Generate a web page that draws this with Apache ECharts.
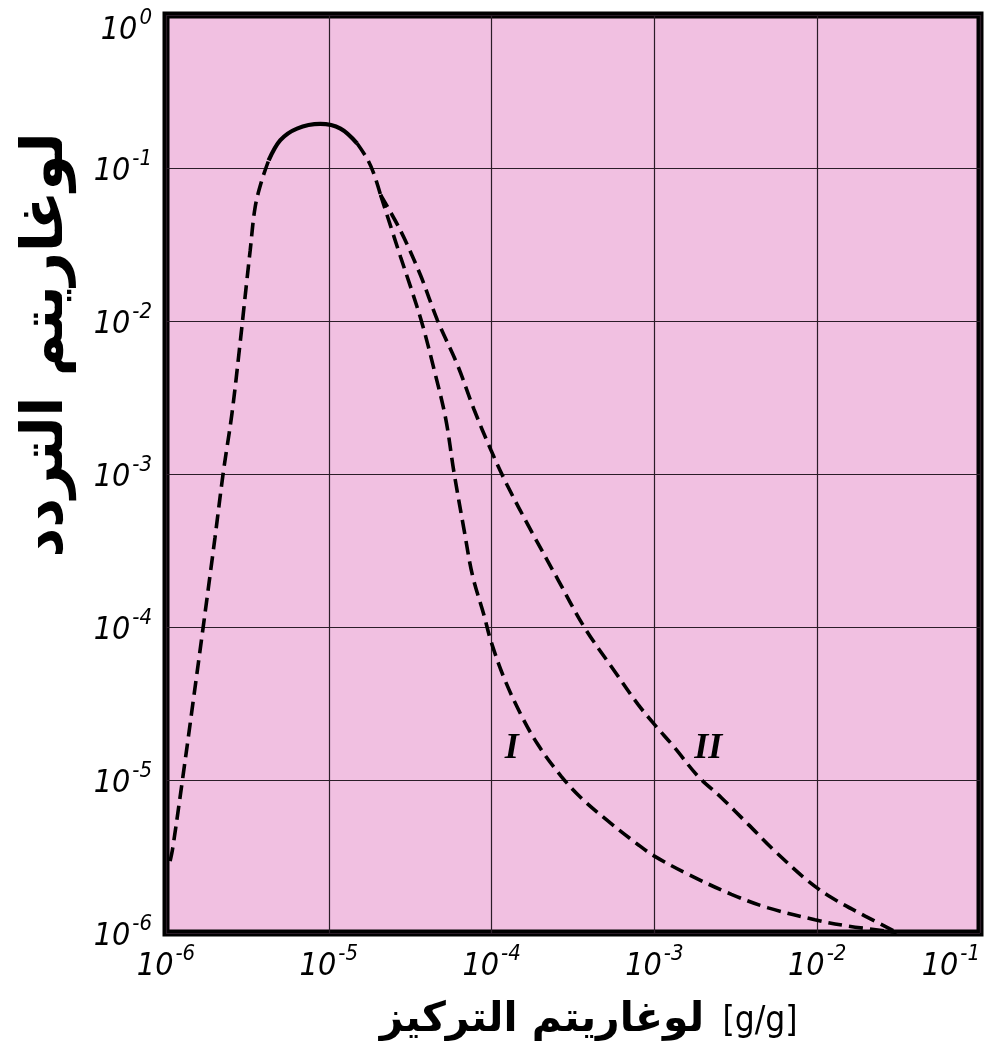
<!DOCTYPE html>
<html>
<head>
<meta charset="utf-8">
<script src="https://cdn.jsdelivr.net/npm/echarts@6/dist/echarts.min.js"></script>
<style>
  html, body { margin: 0; padding: 0; background: #fff; }
  #chart { width: 991px; height: 1060px; }
</style>
</head>
<body>
<div id="chart"></div>
<script>
// tick exponents shown as 10^n, from the lowest decade up
var xTickExp = ['-6', '-5', '-4', '-3', '-2', '-1']
var yTickExp = ['-6', '-5', '-4', '-3', '-2', '-1', '0']

// common curve, rising flank (dashed)
var riseX = [1.06e-6, 1.10e-6, 1.27e-6, 1.47e-6, 1.69e-6, 2.00e-6, 2.25e-6, 2.54e-6, 2.82e-6, 3.14e-6, 3.29e-6, 3.53e-6, 3.88e-6, 4.27e-6]
var riseY = [2.95e-6, 3.59e-6, 1.05e-5, 3.29e-5, 9.9e-5, 3.85e-4, 1.03e-3, 2.47e-3, 6.43e-3, 1.85e-2, 2.90e-2, 5.56e-2, 8.32e-2, 1.12e-1]
// top of the peak (solid)
var peakX = [4.27e-6, 5.04e-6, 6.38e-6, 8.87e-6, 1.18e-5, 1.49e-5]
var peakY = [1.12e-1, 1.52e-1, 1.81e-1, 1.94e-1, 1.81e-1, 1.45e-1]
// falling flank before the two branches split
var fallX = [1.49e-5, 1.72e-5, 1.89e-5, 2.08e-5]
var fallY = [1.45e-1, 1.15e-1, 9.2e-2, 6.67e-2]
// branch I
var curveIX = [2.08e-5, 2.76e-5, 3.18e-5, 3.76e-5, 4.43e-5, 5.22e-5, 5.87e-5, 6.78e-5, 7.62e-5, 8.99e-5, 9.89e-5, 1.19e-4, 1.51e-4, 1.92e-4, 2.67e-4, 3.54e-4, 5.18e-4, 7.91e-4, 1.0e-3, 1.61e-3, 2.97e-3, 5.0e-3, 9.68e-3, 1.55e-2, 3.08e-2]
var curveIY = [6.67e-2, 2.62e-2, 1.67e-2, 9.46e-3, 4.84e-3, 2.31e-3, 1.03e-3, 4.30e-4, 2.19e-4, 1.19e-4, 8.13e-5, 4.67e-5, 2.69e-5, 1.71e-5, 1.06e-5, 7.66e-6, 5.40e-6, 3.79e-6, 3.18e-6, 2.42e-6, 1.79e-6, 1.46e-6, 1.22e-6, 1.11e-6, 1.01e-6]
// branch II
var curveIIX = [2.08e-5, 2.76e-5, 3.66e-5, 4.65e-5, 6.17e-5, 7.80e-5, 9.89e-5, 1.25e-4, 1.74e-4, 2.55e-4, 3.72e-4, 5.68e-4, 7.91e-4, 1.0e-3, 1.33e-3, 1.85e-3, 2.58e-3, 3.77e-3, 5.50e-3, 8.81e-3, 1.23e-2, 1.97e-2, 3.08e-2]
var curveIIY = [6.67e-2, 3.89e-2, 1.99e-2, 1.01e-2, 5.16e-3, 2.64e-3, 1.44e-3, 8.41e-4, 4.30e-4, 2.05e-4, 9.93e-5, 5.16e-5, 3.13e-5, 2.31e-5, 1.63e-5, 1.06e-5, 7.66e-6, 5.13e-6, 3.43e-6, 2.18e-6, 1.70e-6, 1.29e-6, 1.01e-6]

function zip(xs, ys) {
  return xs.map(function (x, i) { return [x, ys[i]] })
}

// pick the exponent label belonging to a decade value
function decadeLabel(exps, v) {
  var k = Math.round(Math.log10(v)) - Number(exps[0])
  var text = '{b|10}{s|' + exps[k] + '}'
  // the top label sits a bit lower so it is not cut off
  if (k === exps.length - 1 && exps === yTickExp) {
    text = '{gap| }\n' + text
  }
  return text
}

var tickFamily = '"DejaVu Sans Condensed", "DejaVu Sans"'
var tickFont = {
  b: {fontFamily: tickFamily, fontStyle: 'italic', fontSize: 32, color: '#000', lineHeight: 40, verticalAlign: 'bottom'},
  s: {fontFamily: tickFamily, fontStyle: 'italic', fontSize: 22, color: '#000', lineHeight: 40, verticalAlign: 'top', padding: [0, 0, 0, 2]},
  gap: {fontSize: 10, lineHeight: 24}
}

var dashed = {color: '#000', width: 3.6, type: [14, 7]}

function curve(name, data, lineStyle, extra) {
  var s = {
    name: name,
    type: 'line',
    data: data,
    smooth: 0.35,
    symbol: 'none',
    lineStyle: lineStyle,
    z: 3
  }
  return Object.assign(s, extra || {})
}

function romanLabel(text, coord) {
  return {
    symbol: 'circle',
    symbolSize: 0,
    silent: true,
    data: [{coord: coord}],
    label: {
      show: true,
      formatter: text,
      position: 'inside',
      fontFamily: 'Liberation Serif',
      fontStyle: 'italic',
      fontWeight: 'bold',
      fontSize: 36,
      color: '#000'
    }
  }
}

var chart = echarts.init(document.getElementById('chart'))
chart.setOption({
  animation: false,
  backgroundColor: '#fff',
  grid: {
    left: 166,
    top: 15,
    right: 11,
    bottom: 127,
    containLabel: false,
    outerBoundsMode: 'none',
    show: true,
    backgroundColor: '#f1c0e1',
    borderColor: '#000',
    borderWidth: 7
  },
  xAxis: {
    type: 'log',
    logBase: 10,
    min: 1e-6,
    max: 1e-1,
    splitNumber: 5,
    axisLine: {show: false},
    axisTick: {show: false},
    splitLine: {show: true, lineStyle: {color: '#2b1d28', width: 1.2}},
    axisLabel: {
      margin: 10,
      showMinLabel: true,
      showMaxLabel: true,
      alignMaxLabel: 'right',
      formatter: function (v) { return decadeLabel(xTickExp, v) },
      rich: tickFont
    }
  },
  yAxis: {
    type: 'log',
    logBase: 10,
    min: 1e-6,
    max: 1,
    splitNumber: 6,
    axisLine: {show: false},
    axisTick: {show: false},
    splitLine: {show: true, lineStyle: {color: '#2b1d28', width: 1.2}},
    axisLabel: {
      margin: 14,
      showMinLabel: true,
      showMaxLabel: true,
      formatter: function (v) { return decadeLabel(yTickExp, v) },
      rich: tickFont
    }
  },
  series: [
    curve('rise', zip(riseX, riseY), dashed),
    curve('peak', zip(peakX, peakY), {color: '#000', width: 4.2, type: 'solid'}),
    curve('fall', zip(fallX, fallY), dashed),
    curve('I', zip(curveIX, curveIY), dashed, {markPoint: romanLabel('I', [1.33e-4, 1.60e-5])}),
    curve('II', zip(curveIIX, curveIIY), dashed, {markPoint: romanLabel('II', [2.14e-3, 1.60e-5])})
  ],
  graphic: [
    {
      type: 'text',
      x: 47,
      y: 345,
      rotation: Math.PI / 2,
      style: {
        text: 'لوغاريتم التردد',
        font: 'bold 58px "DejaVu Sans"',
        fill: '#000',
        textAlign: 'center',
        textVerticalAlign: 'middle'
      }
    },
    {
      type: 'text',
      x: 542,
      y: 1020,
      style: {
        text: 'لوغاريتم التركيز',
        font: 'bold 41px "DejaVu Sans"',
        fill: '#000',
        textAlign: 'center',
        textVerticalAlign: 'middle'
      }
    },
    {
      type: 'text',
      x: 760,
      y: 1022,
      style: {
        text: '[g/g]',
        font: '35px "DejaVu Sans Condensed", "DejaVu Sans"',
        fill: '#000',
        textAlign: 'center',
        textVerticalAlign: 'middle'
      }
    }
  ]
})
</script>
</body>
</html>
